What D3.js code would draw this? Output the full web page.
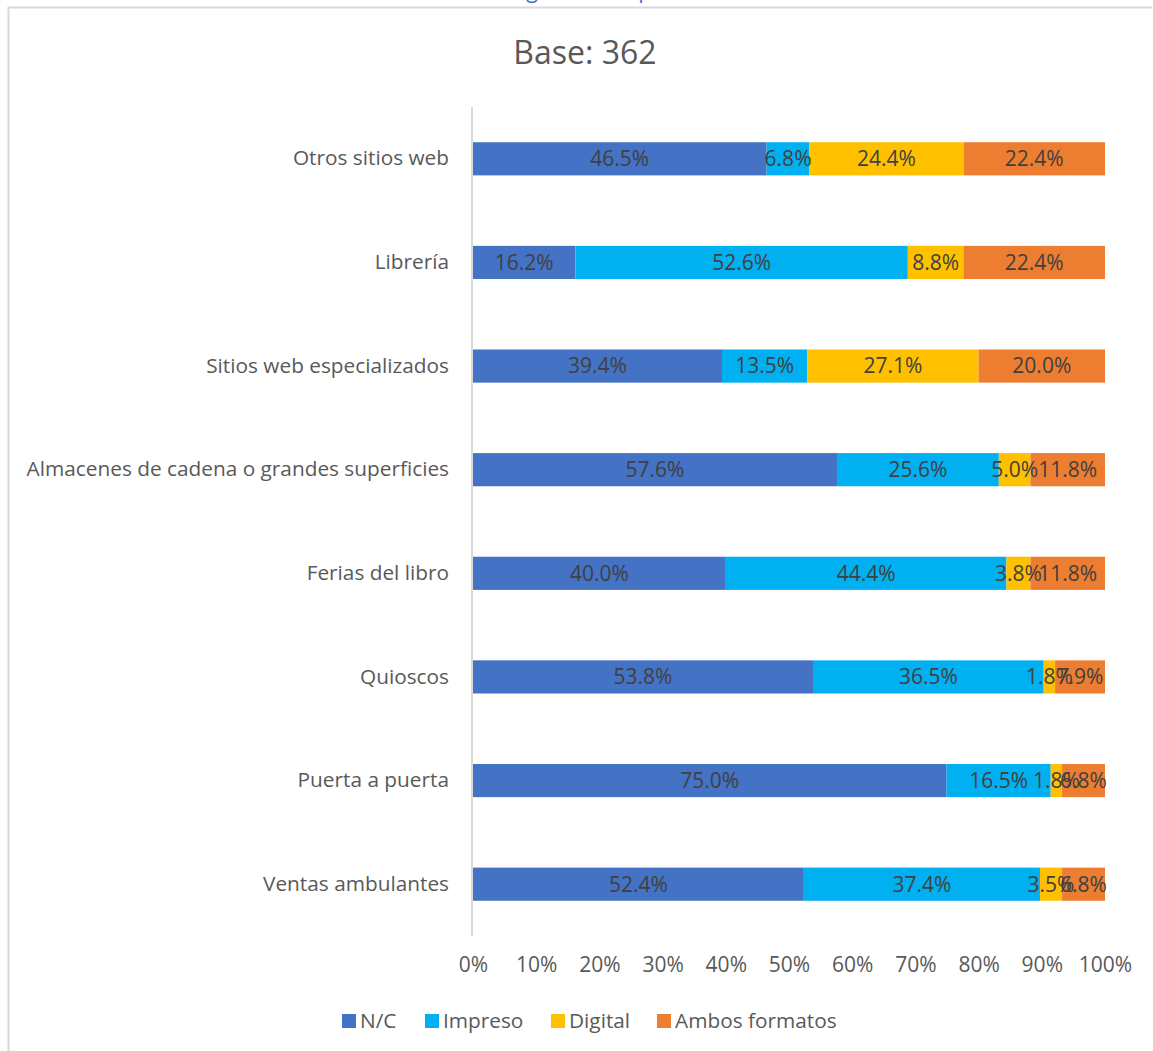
<!DOCTYPE html>
<html><head><meta charset="utf-8">
<script src="https://cdn.jsdelivr.net/npm/d3@7"></script>
<style>body{margin:0;background:#fff;} svg{display:block;font-family:"Open Sans","Noto Sans",sans-serif;}</style>
</head><body>
<svg id="c" width="1153" height="1051"></svg>
<script>
const categories = ["Otros sitios web","Librería","Sitios web especializados","Almacenes de cadena o grandes superficies","Ferias del libro","Quioscos","Puerta a puerta","Ventas ambulantes"];
const seriesNames = ["N/C","Impreso","Digital","Ambos formatos"];
const nc      = [46.5,16.2,39.4,57.6,40.0,53.8,75.0,52.4];
const impreso = [6.8,52.6,13.5,25.6,44.4,36.5,16.5,37.4];
const digital = [24.4,8.8,27.1,5.0,3.8,1.8,1.8,3.5];
const ambos   = [22.4,22.4,20.0,11.8,11.8,7.9,6.8,6.8];
const tickLabels = ["0%","10%","20%","30%","40%","50%","60%","70%","80%","90%","100%"];
const colors = ["#4472C4","#00B0F0","#FFC000","#ED7D31"];
const titleText = "Base: 362";
const headingText = "Lugar de compra";

const FONT = "'Open Sans','Noto Sans',sans-serif";
const svg = d3.select("#c");
const rows = categories.map((c,i)=>({cat:c,"N/C":nc[i],"Impreso":impreso[i],"Digital":digital[i],"Ambos formatos":ambos[i]}));
const stack = d3.stack().keys(seriesNames).offset(d3.stackOffsetExpand)(rows);

const x = d3.scaleLinear().domain([0,1]).range([473,1105]);
const y = d3.scaleBand().domain(categories).range([107,936]).paddingInner(0.68).paddingOuter(0.34);

// outer border (partial, as in reference)
svg.append("path").attr("d","M8.5,1051 L8.5,7.5 L1152,7.5").attr("fill","none").attr("stroke","#D9D9D9").attr("stroke-width",2);
// cut-off heading above the chart frame
svg.append("text").attr("x",587).attr("y",-2).attr("text-anchor","middle").attr("fill","#4472C4").attr("font-size",21.5).text(headingText);

svg.append("text").attr("x",585).attr("y",64).attr("text-anchor","middle").attr("fill","#595959").attr("font-size",32).text(titleText);

const g = svg.append("g");
stack.forEach((s,si)=>{
  g.selectAll(null).data(s).enter().append("rect")
    .attr("x",d=>x(d[0])).attr("width",d=>x(d[1])-x(d[0]))
    .attr("y",d=>y(d.data.cat)).attr("height",y.bandwidth())
    .attr("fill",colors[si]);
});
stack.forEach((s,si)=>{
  g.selectAll(null).data(s).enter().append("text")
    .attr("x",d=>(x(d[0])+x(d[1]))/2).attr("y",d=>y(d.data.cat)+y.bandwidth()/2)
    .attr("dy","0.35em").attr("text-anchor","middle").attr("fill","#404040").attr("font-size",21)
    .text(d=>d.data[s.key].toFixed(1)+"%");
});

// vertical axis line
svg.append("line").attr("x1",472).attr("x2",472).attr("y1",107).attr("y2",936).attr("stroke","#D9D9D9").attr("stroke-width",2);

// category labels
const yAxis = d3.axisLeft(y).tickSize(0).tickPadding(23);
const ya = svg.append("g").attr("transform","translate(472,0)").call(yAxis);
ya.select(".domain").remove();
ya.selectAll("text").attr("fill","#595959").attr("font-size",20.8).attr("font-family",FONT);

// x axis
const xAxis = d3.axisBottom(x).tickValues(d3.range(0,1.01,0.1)).tickFormat((d,i)=>tickLabels[i]).tickSize(0).tickPadding(0);
const xa = svg.append("g").attr("transform","translate(0,957)").call(xAxis);
xa.select(".domain").remove();
xa.selectAll("text").attr("fill","#595959").attr("font-size",21).attr("font-family",FONT);

// legend
const legX = [342,425,551,657];
const leg = svg.append("g");
seriesNames.forEach((n,i)=>{
  leg.append("rect").attr("x",legX[i]).attr("y",1014).attr("width",14).attr("height",14).attr("fill",colors[i]);
  leg.append("text").attr("x",legX[i]+18).attr("y",1021).attr("dy","0.35em").attr("fill","#595959").attr("font-size",20.8).text(n);
});
</script>
</body></html>
